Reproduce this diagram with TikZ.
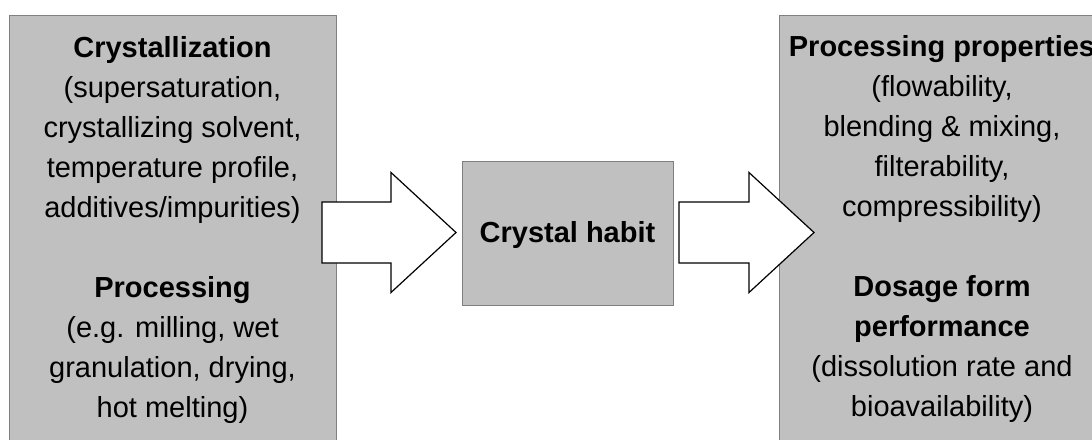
\documentclass[tikz,border=0pt]{standalone}
\usepackage{fontspec}
\setmainfont{Liberation Sans}
\definecolor{boxgray}{HTML}{C0C0C0}
\definecolor{edgegray}{HTML}{808080}
\begin{document}
\begin{tikzpicture}[x=1pt,y=-1pt,
  box/.style={draw=edgegray, fill=boxgray, line width=1pt, inner sep=0pt},
  blockarrow/.style={draw=black, fill=white, line width=1.2pt, line join=miter},
  txt/.style={align=center, inner sep=0pt, font=\fontsize{29}{40}\selectfont},
]
\useasboundingbox (0,0) rectangle (1092,439);
\clip (0,0) rectangle (1092,439);
% boxes
\node[box, anchor=north west, minimum width=327pt, minimum height=440pt] (left) at (9,15) {};
\node[box, anchor=north west, minimum width=326pt, minimum height=440pt] (right) at (779,15) {};
\node[box, anchor=north west, minimum width=211pt, minimum height=144pt] (habit) at (462,161) {};
% block arrows
\coordinate (a1) at (322,232.5);
\coordinate (a2) at (679,232.5);
\draw[blockarrow] (a1) ++(0,-30.5) -- ++(69,0) -- ++(0,-29.5) -- ++(65,60) -- ++(-65,60) -- ++(0,-29.5) -- ++(-69,0) -- cycle;
\draw[blockarrow] (a2) ++(0,-30.5) -- ++(70,0) -- ++(0,-29.5) -- ++(65,60) -- ++(-65,60) -- ++(0,-29.5) -- ++(-70,0) -- cycle;
% texts
\node[txt, anchor=north] (lefttext) at (172.5,33) {\rule{0pt}{24pt}\textbf{Crystallization}\\
(supersaturation,\\crystallizing solvent,\\temperature profile,\\additives/impurities)\\[40pt]
\textbf{Processing}\\(e.g. milling, wet\\granulation, drying,\\hot melting)};
\node[txt, anchor=base, font=\fontsize{29}{40}\selectfont\bfseries] (habittext) at (567.5,242) {Crystal habit};
\node[txt, anchor=north] (righttext) at (942,32) {\rule{0pt}{24pt}\textbf{Processing properties}\\
(flowability,\\blending \& mixing,\\filterability,\\compressibility)\\[40pt]
\textbf{Dosage form}\\\textbf{performance}\\(dissolution rate and\\bioavailability)};
\end{tikzpicture}
\end{document}
